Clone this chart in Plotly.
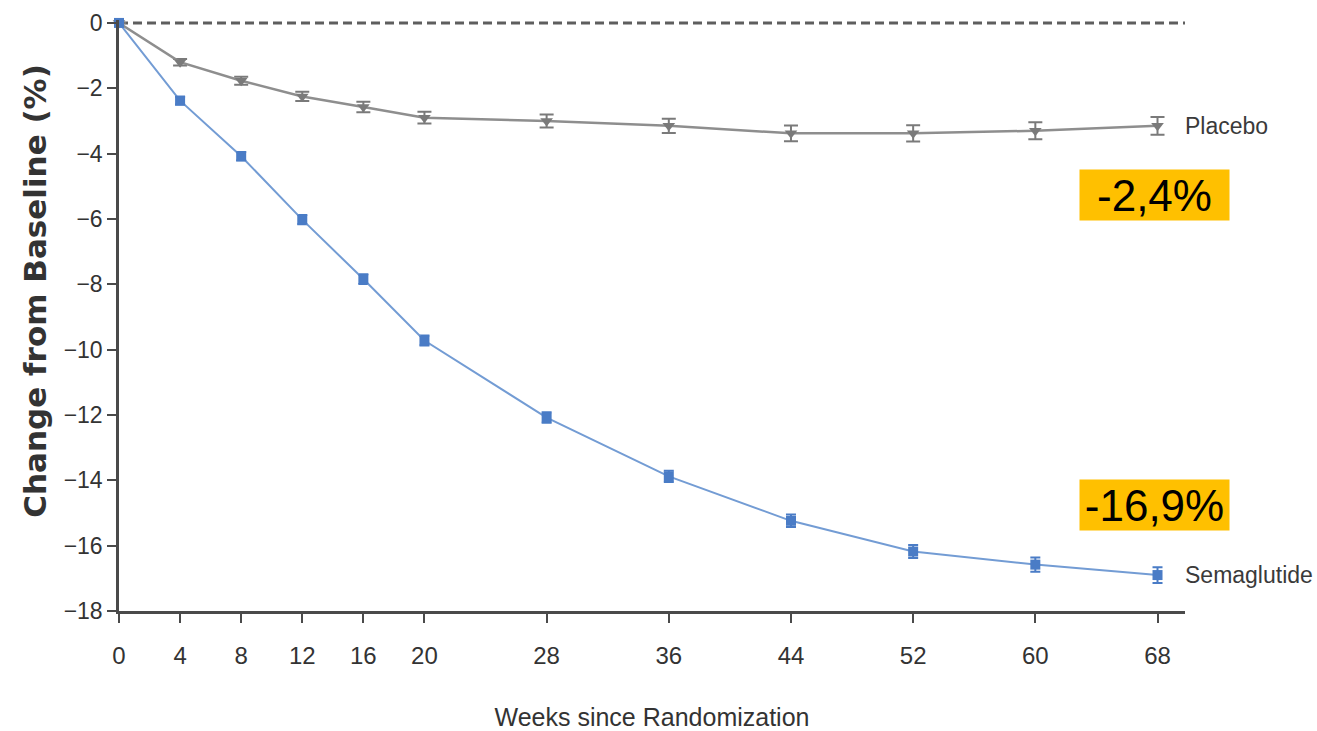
import plotly.graph_objects as go

# Study visits (weeks since randomization)
weeks = [0, 4, 8, 12, 16, 20, 28, 36, 44, 52, 60, 68]

# Mean change in body weight from baseline (%)
placebo = [0.0, -1.2, -1.77, -2.25, -2.57, -2.9, -3.0, -3.15, -3.38, -3.38, -3.3, -3.15]
placebo_err = [0.0, 0.1, 0.12, 0.14, 0.16, 0.18, 0.2, 0.22, 0.24, 0.25, 0.26, 0.27]

semaglutide = [0.0, -2.38, -4.08, -6.02, -7.84, -9.72, -12.08, -13.88, -15.24, -16.18, -16.58, -16.9]
sema_err = [0.0, 0.12, 0.13, 0.14, 0.15, 0.15, 0.16, 0.17, 0.19, 0.2, 0.22, 0.24]

x_ticks = [0, 4, 8, 12, 16, 20, 28, 36, 44, 52, 60, 68]
y_ticks = [0, -2, -4, -6, -8, -10, -12, -14, -16, -18]

placebo_callout = "-2,4%"
sema_callout = f"{semaglutide[-1]:.1f}%".replace(".", ",")

SANS = "Liberation Sans, Arial, sans-serif"
AXIS = "#4a4a4a"
TXT = "#333333"

fig = go.Figure()

# Reference line at no change
fig.add_trace(go.Scatter(
    x=[0, 69.8], y=[0, 0], mode="lines",
    line=dict(color="#5e5e5e", width=3, dash="9px,5px"),
    hoverinfo="skip", showlegend=False,
))

fig.add_trace(go.Scatter(
    x=weeks, y=placebo, mode="lines+markers", name="Placebo",
    line=dict(color="#8e8e8e", width=2.5),
    marker=dict(symbol="triangle-down", size=11, color="#7a7a7a"),
    error_y=dict(type="data", array=placebo_err, color="#7a7a7a", thickness=2, width=7),
    cliponaxis=False, showlegend=False,
))

fig.add_trace(go.Scatter(
    x=weeks, y=semaglutide, mode="lines+markers", name="Semaglutide",
    line=dict(color="#739cd4", width=2),
    marker=dict(symbol="square", size=10, color="#4a7cc6"),
    error_y=dict(type="data", array=sema_err, color="#4a7cc6", thickness=2, width=5),
    cliponaxis=False, showlegend=False,
))

# Series labels at the right end of each line
for name, yv in (("Placebo", placebo[-1]), ("Semaglutide", semaglutide[-1])):
    fig.add_annotation(
        x=weeks[-1], y=yv, xref="x", yref="y", text=name, showarrow=False,
        xanchor="left", yanchor="middle", xshift=25,
        font=dict(family=SANS, size=23, color="#3a3a3a"),
    )

# Highlighted result boxes
for txt, yc in ((placebo_callout, -5.26), (sema_callout, -14.76)):
    fig.add_annotation(
        x=67.8, y=yc, xref="x", yref="y", text=txt, showarrow=False,
        xanchor="center", yanchor="middle", width=149, height=50,
        bgcolor="#FFC000", borderpad=0,
        font=dict(family=SANS, size=44, color="#000000"),
    )

# Vertical axis title
fig.add_annotation(
    x=-0.079, y=0.5416, xref="paper", yref="paper", text="Change from Baseline (%)",
    showarrow=False, textangle=-90, xanchor="center", yanchor="middle",
    font=dict(family="DejaVu Sans, sans-serif", size=31, color=TXT, weight="bold"),
)

fig.update_xaxes(
    range=[0, 69.8], tickvals=x_ticks, ticktext=[str(v) for v in x_ticks],
    showline=True, linecolor=AXIS, linewidth=2.5,
    ticks="outside", ticklen=9, tickwidth=2, tickcolor=AXIS,
    ticklabelstandoff=12, automargin=False,
    showgrid=False, zeroline=False,
    tickfont=dict(family=SANS, size=24, color=TXT),
    title=dict(text="Weeks since Randomization", standoff=42,
               font=dict(family=SANS, size=25, color=TXT)),
)
fig.update_yaxes(
    range=[-18, 0.09], tickvals=y_ticks, ticktext=["0" if v == 0 else f"\u2212{abs(v)}" for v in y_ticks],
    showline=True, linecolor=AXIS, linewidth=2.5,
    ticks="outside", ticklen=9, tickwidth=2, tickcolor=AXIS,
    automargin=False,
    showgrid=False, zeroline=False,
    tickfont=dict(family=SANS, size=23, color=TXT),
)

fig.update_layout(
    width=1317, height=731,
    margin=dict(l=119, r=132, t=20, b=120),
    paper_bgcolor="white", plot_bgcolor="white",
)

fig.write_html("out.html")
